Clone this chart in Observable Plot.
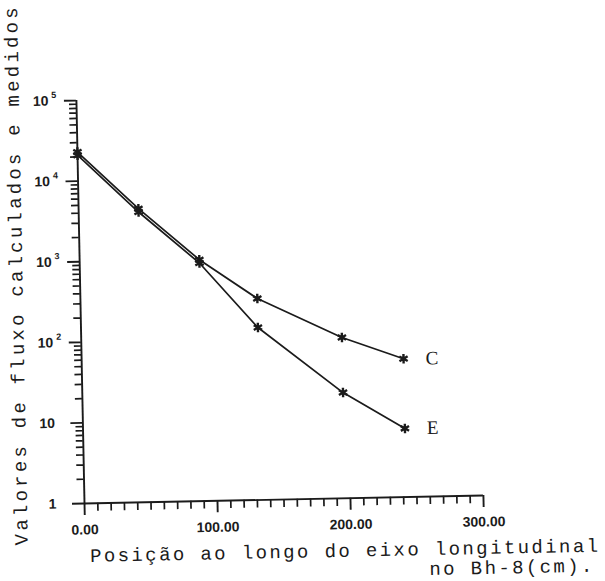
<!DOCTYPE html>
<html>
<head>
<meta charset="utf-8">
<script src="https://cdn.jsdelivr.net/npm/d3@7"></script>
<script src="https://cdn.jsdelivr.net/npm/@observablehq/plot@0.6"></script>
<style>
  body { margin: 0; background: #fff; }
  #chart { width: 605px; height: 581px; overflow: hidden; }
</style>
</head>
<body>
<div id="chart"></div>
<script>
// ---- data ----
const positions = [0, 45, 90, 133, 196, 242];          // cm along Bh-8
const seriesC = [23000, 4400, 990, 316, 99, 52];       // curve C
const seriesE = [21000, 4000, 900, 138, 20.5, 7.1];    // curve E
const seriesNames = ["C", "E"];
const xTickValues = [0, 100, 200, 300];
const yDecades = [1, 10, 100, 1000, 10000, 100000];
const yTickBase = ["1", "10", "10", "10", "10", "10"];
const yTickExp = ["", "", "2", "3", "4", "5"];
const yTitle = "Valores de fluxo calculados e medidos";
const xTitle1 = "Posição ao longo do eixo longitudinal";
const xTitle2 = "no Bh-8(cm).";

const rows = [];
positions.forEach((x, i) => rows.push({x, v: seriesC[i], s: seriesNames[0]}));
positions.forEach((x, i) => rows.push({x, v: seriesE[i], s: seriesNames[1]}));

const xMinor = d3.range(0, 301, 10).filter(d => d % 100 !== 0);
const yMinor = [];
for (let k = 0; k < 5; k++) for (let m = 2; m <= 9; m++) yMinor.push(m * Math.pow(10, k));

const ink = "#1b1b1b";
const sans = "'Liberation Sans', Arial, sans-serif";
const mono = "'Liberation Mono', 'DejaVu Sans Mono', monospace";
const serif = "'Liberation Serif', 'DejaVu Serif', serif";

const plot = Plot.plot({
  width: 605,
  height: 581,
  marginLeft: 84,
  marginRight: 122,
  marginTop: 100,
  marginBottom: 78,
  style: {background: "#fff", color: ink, fontFamily: sans, overflow: "visible"},
  x: {domain: [0, 300], label: null},
  y: {type: "log", domain: [1, 100000], label: null},
  marks: [
    Plot.axisX(xMinor, {tickSize: 8, tickFormat: () => "", strokeWidth: 1.7, label: null}),
    Plot.axisX(xTickValues, {tickSize: 12, tickPadding: 9, strokeWidth: 1.9, label: null,
      tickFormat: d3.format(".2f"), fontSize: 14, fontWeight: "bold", fill: ink,
      style: {letterSpacing: "1px"}}),
    Plot.axisY(yMinor, {tickSize: 7, tickFormat: () => "", strokeWidth: 1.7, label: null}),
    Plot.axisY(yDecades, {tickSize: 12, tickFormat: () => "", strokeWidth: 1.9, label: null}),
    Plot.text(yDecades, {y: d => d, text: (d, i) => yTickBase[i], frameAnchor: "left",
      textAnchor: "end", dx: -28, fontSize: 14, fontWeight: "bold", fill: ink}),
    Plot.text(yDecades, {y: d => d, text: (d, i) => yTickExp[i], frameAnchor: "left",
      textAnchor: "start", dx: -25, dy: -6, fontSize: 9, fontWeight: "bold", fill: ink}),
    Plot.ruleX([0], {stroke: ink, strokeWidth: 1.9}),
    Plot.ruleY([1], {stroke: ink, strokeWidth: 1.9}),
    Plot.line(rows, {x: "x", y: "v", z: "s", stroke: ink, strokeWidth: 1.7}),
    Plot.dot(rows, {x: "x", y: "v", symbol: "asterisk", r: 4.5, stroke: ink, strokeWidth: 2.4}),
    Plot.text(rows, Plot.selectLast({x: "x", y: "v", z: "s", text: "s", textAnchor: "start",
      dx: 22, fontFamily: serif, fontSize: 19, fill: ink}))
  ]
});

// titles
const svg = d3.select(plot);
svg.append("text")
  .attr("x", 0).attr("y", 0)
  .attr("transform", "translate(27,275) rotate(-90)")
  .attr("text-anchor", "middle")
  .attr("textLength", 538).attr("lengthAdjust", "spacing")
  .attr("font-family", mono).attr("font-size", 19).attr("fill", ink)
  .text(yTitle);
svg.append("text")
  .attr("x", 89).attr("y", 562)
  .attr("text-anchor", "start")
  .attr("textLength", 508).attr("lengthAdjust", "spacing")
  .attr("font-family", mono).attr("font-size", 19).attr("fill", ink)
  .text(xTitle1);
svg.append("text")
  .attr("x", 428).attr("y", 582)
  .attr("text-anchor", "start")
  .attr("textLength", 163).attr("lengthAdjust", "spacing")
  .attr("font-family", mono).attr("font-size", 19).attr("fill", ink)
  .text(xTitle2);

// the scanned figure is slightly rotated: wrap everything and tilt it
const g = document.createElementNS("http://www.w3.org/2000/svg", "g");
g.setAttribute("transform", "rotate(-1.15 84 503)");
const kids = Array.from(plot.childNodes).filter(n => n.nodeName !== "style");
kids.forEach(n => g.appendChild(n));
plot.appendChild(g);

document.getElementById("chart").appendChild(plot);
</script>
</body>
</html>
